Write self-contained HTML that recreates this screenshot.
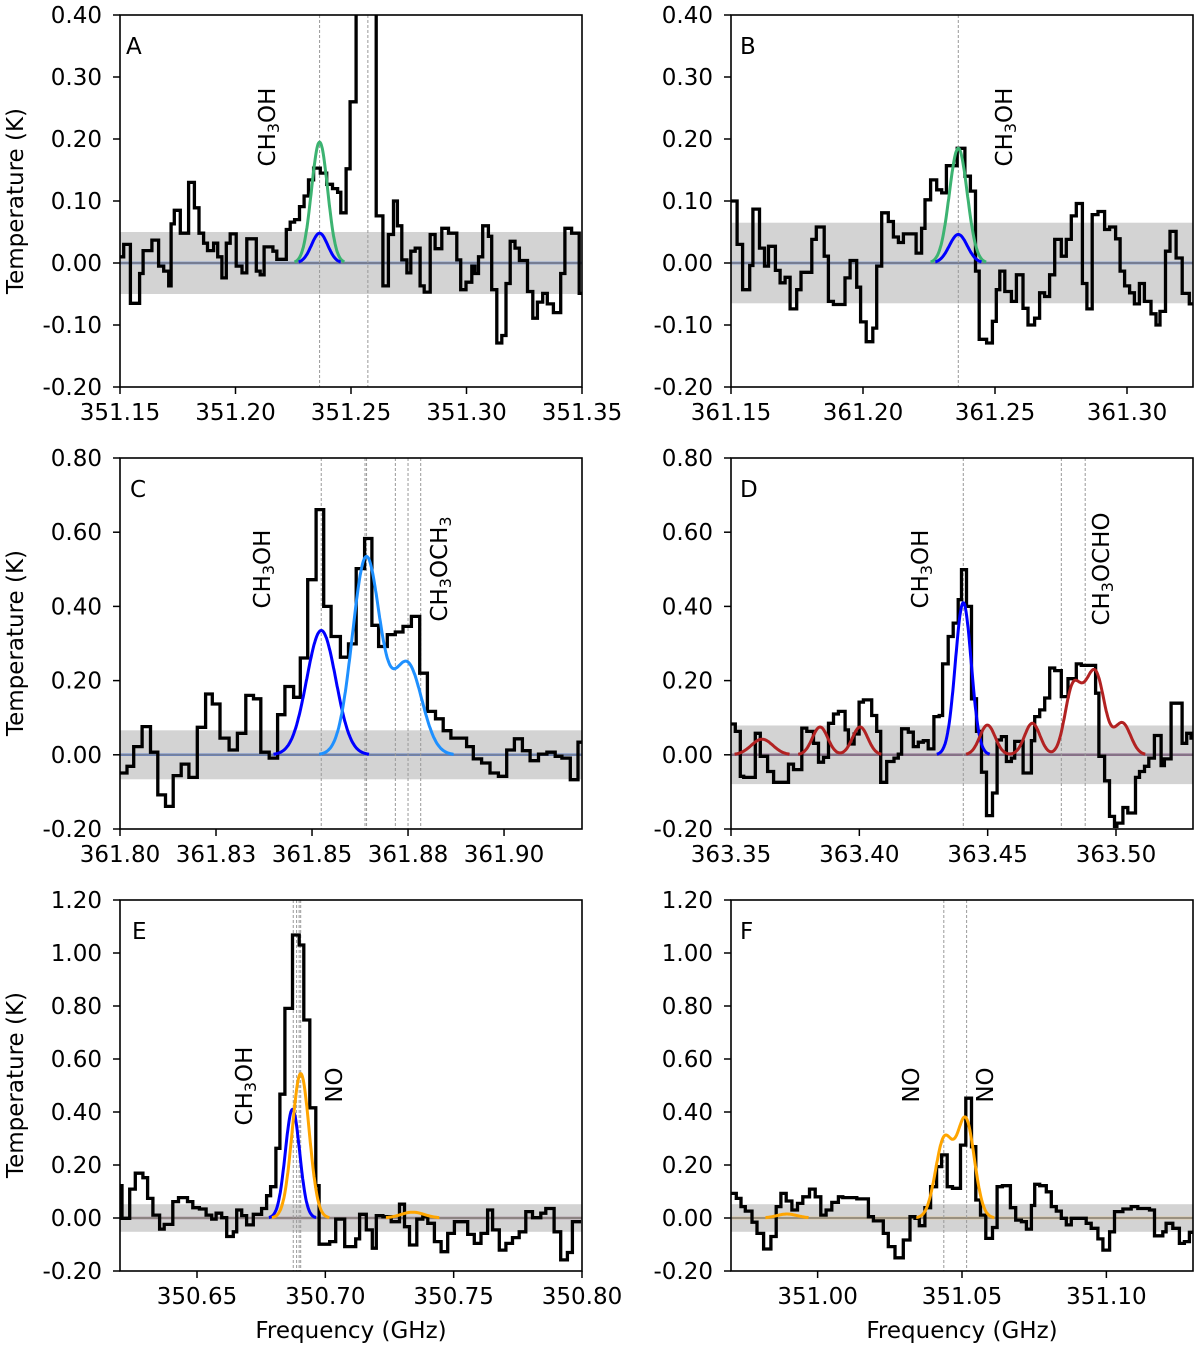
<!DOCTYPE html>
<html><head><meta charset="utf-8"><title>Spectra panels</title>
<style>
html,body{margin:0;padding:0;background:#fff;}
svg{display:block;font-family:"DejaVu Sans","Liberation Sans",sans-serif;}
</style></head>
<body>
<svg id="fig" width="1200" height="1350" viewBox="0 0 1200 1350" xmlns="http://www.w3.org/2000/svg">
<rect width="1200" height="1350" fill="#fff"/>
<text transform="translate(16,201) rotate(-90)" text-anchor="middle" dominant-baseline="central" font-size="23">Temperature (K)</text>
<text transform="translate(16,643) rotate(-90)" text-anchor="middle" dominant-baseline="central" font-size="23">Temperature (K)</text>
<text transform="translate(16,1085) rotate(-90)" text-anchor="middle" dominant-baseline="central" font-size="23">Temperature (K)</text>
<text x="351" y="1338" text-anchor="middle" font-size="23">Frequency (GHz)</text>
<text x="962" y="1338" text-anchor="middle" font-size="23">Frequency (GHz)</text>
</svg>
<script>
// ---------- Panel A (351.15 GHz start, offsets in MHz) ----------
const aStartGHz = 351.15;
const aEdgesMHz = [0,1.6,4.5,8.5,10.0,13.8,16.7,18.9,21.1,22.1,23.5,26.1,29.7,32.2,34.2,36.2,37.9,40.5,42.3,44.1,46.0,47.7,50.3,52.8,54.9,57.1,59.0,60.7,62.4,64.3,66.2,67.9,72.0,73.7,75.6,77.7,79.7,81.6,83.8,86.7,89.5,92.0,94.2,95.6,97.9,99.6,102.2,106.6,110.9,113.8,116.2,118.4,120.1,122.0,124.2,125.9,127.8,129.9,131.7,134.3,136.4,139.3,142.2,145.8,147.5,149.8,152.3,153.7,155.2,157.0,159.5,160.9,163.1,165.3,167.1,168.9,171.0,172.9,176.4,178.7,180.7,183.0,185.0,187.6,190.8,192.6,195.5,198.8,200];
const aTemps = [0.01,0.03,-0.065,-0.017,0.02,0.037,-0.005,-0.013,-0.037,0.063,0.085,0.048,0.13,0.089,0.048,0.032,0.02,0.032,0.01,-0.024,0.032,0.047,-0.005,-0.016,0.039,0.039,-0.013,-0.019,0.026,0.026,0.019,0.006,0.054,0.066,0.07,0.091,0.108,0.134,0.153,0.145,0.127,0.12,0.114,0.081,0.152,0.26,0.6,0.7,0.076,-0.037,0.046,0.1,0.06,0.005,-0.016,0.019,0.024,-0.037,-0.047,0.046,0.023,0.056,0.048,0.005,-0.043,-0.031,-0.005,-0.017,0.01,0.06,0.043,-0.043,-0.129,-0.117,-0.033,0.035,0.024,0.004,-0.046,-0.089,-0.063,-0.049,-0.066,-0.08,-0.017,0.056,0.048,-0.049];
const aXTicks = [351.15,351.20,351.25,351.30,351.35];
const aXTickLabels = ["351.15","351.20","351.25","351.30","351.35"];
const aYTicks = [-0.2,-0.1,0,0.1,0.2,0.3,0.4];
const aYTickLabels = ["-0.20","-0.10","0.00","0.10","0.20","0.30","0.40"];
const aLineGHz = [351.2364,351.2573];
const aGreenAmp = [0.195], aGreenCen = [351.2364], aGreenSig = [0.0035];
const aBlueAmp = [0.048], aBlueCen = [351.2364], aBlueSig = [0.0035];
const aNoise = 0.05;

// ---------- Panel B ----------
const bStartGHz = 361.15;
const bEdgesMHz = [0,2.3,4.4,7.1,8.3,10.8,12.7,14.2,16.8,18.6,20.5,22.4,24.9,26.5,28.7,30.6,32.3,35.3,36.9,38.8,43.2,45.1,47.6,49.1,51.2,53.7,55.2,57.1,59.6,61.5,63.4,65.3,70.1,72.2,73.5,75.6,77.9,79.8,81.6,83.2,85.7,88.6,90.7,92.6,94.0,96.8,99.0,100.5,101.8,103.7,106.2,108.1,110.6,112.5,115.0,116.9,118.8,120.7,122.6,125.1,127.0,128.9,130.8,133.1,134.8,136.8,139.0,141.5,143.4,145.7,147.4,149.1,151.0,152.8,154.7,156.6,159.1,161.0,162.5,164.6,166.3,168.6,170.9,173.6,175.1];
const bTemps = [0.1,0.03,-0.043,-0.004,0.087,0.024,-0.005,0.027,-0.012,-0.032,-0.023,-0.074,-0.043,-0.015,-0.015,0.038,0.058,0.011,-0.062,-0.067,-0.024,0.004,-0.039,-0.095,-0.127,-0.105,-0.005,0.081,0.067,0.042,0.033,0.047,0.016,0.056,0.102,0.134,0.118,0.113,0.157,0.157,0.185,0.14,0.116,-0.013,-0.123,-0.129,-0.094,-0.043,-0.013,-0.046,-0.062,-0.019,-0.073,-0.1,-0.089,-0.048,-0.054,-0.019,0.038,0.011,0.038,0.076,0.096,-0.033,-0.074,0.078,0.083,0.054,0.058,0.039,-0.013,-0.037,-0.048,-0.066,-0.033,-0.062,-0.082,-0.1,-0.078,0.019,0.051,0.008,-0.049,-0.066];
const bXTicks = [361.15,361.20,361.25,361.30];
const bXTickLabels = ["361.15","361.20","361.25","361.30"];
const bYTicks = [-0.2,-0.1,0,0.1,0.2,0.3,0.4];
const bYTickLabels = ["-0.20","-0.10","0.00","0.10","0.20","0.30","0.40"];
const bLineGHz = [361.2361];
const bGreenAmp = [0.185], bGreenCen = [361.2361], bGreenSig = [0.0034];
const bBlueAmp = [0.046], bBlueCen = [361.2361], bBlueSig = [0.0034];
const bNoise = 0.065;

// ---------- Panel C ----------
const cStartGHz = 361.80;
const cEdgesMHz = [0,1.83,3.57,5.75,7.93,9.84,11.85,13.85,15.94,17.94,20.12,22.3,24.04,26.05,28.4,30.57,32.75,34.76,36.67,38.85,41.03,42.94,45.21,46.95,48.87,51.05,53.05,54.97,57.4,59.5,61.5,63.68,65.59,67.33,69.6,71.69,73.69,75.87,78.05,80.05,82.14,84.15,86.15,88.07,90.24,91.99,94.16,96.34,98.52,100.7,102.7,104.79,106.79,108.97,111.15,113.33,115.07,117.25,119.25,120.82];
const cTemps = [-0.049,-0.031,0.022,0.076,0.007,-0.108,-0.139,-0.056,-0.025,-0.061,0.074,0.164,0.137,0.045,0.013,0.058,0.16,0.151,0.007,-0.009,0.108,0.184,0.155,0.261,0.472,0.661,0.4,0.319,0.263,0.299,0.502,0.583,0.349,0.292,0.324,0.331,0.346,0.373,0.22,0.117,0.097,0.065,0.045,0.045,0.022,-0.011,-0.022,-0.049,-0.058,0.013,0.043,0.011,-0.016,0.002,0.007,-0.004,-0.009,-0.067,0.034];
const cXTicks = [361.80,361.825,361.85,361.875,361.90];
const cXTickLabels = ["361.80","361.83","361.85","361.88","361.90"];
const cYTicks = [-0.2,0,0.2,0.4,0.6,0.8];
const cYTickLabels = ["-0.20","0.00","0.20","0.40","0.60","0.80"];
const cLineGHz = [361.8524,361.8638,361.8642,361.8717,361.8750,361.8783];
const cBlueAmp = [0.335], cBlueCen = [361.8524], cBlueSig = [0.0038];
const cSkyAmp = [0.53,0.245], cSkyCen = [361.8641,361.8748], cSkySig = [0.0036,0.0038];
const cNoise = 0.066;

// ---------- Panel D ----------
const dStartGHz = 363.35;
const dEdgesMHz = [0,1.68,3.63,4.93,9.46,11.4,14.26,16.59,20.48,22.42,24.36,27.6,29.55,32.14,34.08,36.03,37.97,39.92,41.86,44.45,45.75,47.95,49.9,51.58,54.82,56.76,58.32,60.65,63.5,65.19,66.48,69.08,71.02,72.96,74.91,76.85,79.06,81.13,82.43,84.63,86.57,88.52,89.81,91.76,93.7,95.64,97.59,99.53,101.87,103.68,105.36,107.31,109.25,110.55,113.79,117.03,118.32,120.27,122.21,124.16,126.1,128.69,131.28,134.52,136.47,139.06,142.04,143.34,145.54,147.48,149.43,150.34,152.67,154.61,157.59,159.15,161.09,162.78,164.98,167.57,168.87,171.46,175.74,177.55,179.24,180.14];
const dTemps = [0.083,0.063,-0.058,-0.061,0.058,-0.004,-0.045,-0.074,-0.074,-0.025,-0.04,0.072,0.063,0.031,-0.02,-0.007,0.085,0.11,0.117,0.067,0.029,0.056,0.142,0.148,0.106,0.063,-0.074,-0.018,-0.009,0.002,0.07,0.061,0.022,0.034,0.038,0.016,0.103,0.106,0.245,0.319,0.355,0.418,0.499,0.4,0.151,0.063,-0.047,-0.164,-0.103,0.04,0.049,-0.018,-0.009,0.036,-0.049,0.038,0.103,0.121,0.153,0.234,0.227,0.157,0.205,0.245,0.241,0.241,0.166,-0.004,-0.07,-0.166,-0.193,-0.184,-0.142,-0.157,-0.061,-0.045,-0.031,-0.009,0.052,-0.029,-0.011,0.139,0.031,0.058,0.045];
const dXTicks = [363.35,363.40,363.45,363.50];
const dXTickLabels = ["363.35","363.40","363.45","363.50"];
const dYTicks = [-0.2,0,0.2,0.4,0.6,0.8];
const dYTickLabels = ["-0.20","0.00","0.20","0.40","0.60","0.80"];
const dLineGHz = [363.4405,363.4787,363.4880];
const dBlueAmp = [0.41], dBlueCen = [363.4405], dBlueSig = [0.0031];
const dRedAmp = [0.042,0.075,0.075,0.08,0.085,0.17,0.08,0.195,0.085];
const dRedCen = [363.3621,363.3847,363.4003,363.4499,363.4674,363.4830,363.4880,363.4925,363.5025];
const dRedSig = [0.0042,0.0030,0.0030,0.0030,0.0030,0.0030,0.0030,0.0033,0.0032];
const dNoise = 0.079;

// ---------- Panel E ----------
const eStartGHz = 350.62;
const eEdgesMHz = [0,0.78,3.76,5.96,8.94,10.75,12.82,15.41,17.22,20.59,22.79,26.29,28.36,30.95,33.54,35.74,37.43,39.63,41.57,44.16,45.46,47.4,49.34,51.93,55.17,57.11,58.66,60.74,62.29,64.23,67.21,69.8,71.61,73.94,76.27,77.57,81.71,84.04,87.54,91.82,93.37,95.96,98.29,99.85,102.44,105.68,108.91,110.86,112.8,115.65,117.98,119.92,122.51,125.1,127.69,130.28,132.87,135.46,138.05,140.64,143.23,145.17,147.76,150.35,152.94,155.53,158.12,160.71,163.95,165.89,169.13,171.72,174.31,176.25,179.62];
const eTemps = [0.122,-0.001,0.109,0.169,0.152,0.074,0.011,-0.042,-0.024,0.062,0.077,0.062,0.039,0.034,0.011,-0.004,0.018,0.001,-0.07,-0.052,0.03,0.009,-0.026,0.014,0.036,0.084,0.118,0.263,0.467,0.791,1.068,1.03,0.747,0.416,0.122,-0.099,-0.089,-0.004,-0.108,-0.079,0.014,-0.045,-0.114,0.009,0.005,-0.014,0.052,-0.033,-0.102,-0.004,0.005,-0.02,-0.089,-0.127,-0.058,-0.014,-0.014,-0.062,-0.096,-0.058,0.03,-0.045,-0.121,-0.096,-0.074,-0.052,0.024,0.001,0.018,0.036,-0.052,-0.158,-0.13,-0.014];
const eXTicks = [350.65,350.70,350.75,350.80];
const eXTickLabels = ["350.65","350.70","350.75","350.80"];
const eYTicks = [-0.2,0,0.2,0.4,0.6,0.8,1.0,1.2];
const eYTickLabels = ["-0.20","0.00","0.20","0.40","0.60","0.80","1.00","1.20"];
const eLineGHz = [350.6875,350.6888,350.6898,350.6904];
const eBlueAmp = [0.41], eBlueCen = [350.6872], eBlueSig = [0.0028];
const eOrangeAmp = [0.545,0.022], eOrangeCen = [350.6904,350.7340], eOrangeSig = [0.0033,0.0045];
const eNoise = 0.052;

// ---------- Panel F ----------
const fStartGHz = 350.97;
const fEdgesMHz = [0,1.84,3.46,4.95,7.26,8.99,11.29,13.82,15.67,17.28,19.12,21.08,23.04,24.88,27.19,29.15,31.1,32.95,34.91,37.21,38.71,43.55,47.58,49.31,52.76,54.49,56.79,59.67,61.98,63.71,65.2,67.16,69.12,71.19,72.92,74.88,76.72,79.49,81.33,83.29,84.79,86.4,88.24,90.55,92.16,94.0,96.77,98.61,100.57,102.3,104.03,105.18,106.91,109.21,110.94,112.67,114.39,116.12,117.85,119.58,123.03,124.76,127.07,128.79,131.1,132.83,135.71,138.59,140.89,144.92,146.65,149.53,150.68,152.99,155.29,157.02,158.75,160.13];
const fTemps = [0.093,0.074,0.043,0.026,-0.016,-0.058,-0.117,-0.07,0.043,0.093,0.064,0.03,0.055,0.08,0.109,0.08,0.011,0.03,0.059,0.08,0.077,0.072,0.005,-0.011,-0.058,-0.108,-0.15,-0.083,0.005,-0.001,-0.029,0.039,0.118,0.194,0.238,0.118,0.112,0.275,0.452,0.269,0.068,0.011,-0.077,-0.036,0.118,0.122,0.039,-0.008,-0.014,-0.042,0.047,0.127,0.122,0.099,0.043,0.026,-0.001,-0.026,-0.001,-0.001,-0.02,-0.039,-0.079,-0.121,-0.052,0.024,0.034,0.043,0.036,0.03,-0.067,-0.052,-0.02,-0.039,-0.096,-0.089,-0.054];
const fXTicks = [351.00,351.05,351.10];
const fXTickLabels = ["351.00","351.05","351.10"];
const fYTicks = [-0.2,0,0.2,0.4,0.6,0.8,1.0,1.2];
const fYTickLabels = ["-0.20","0.00","0.20","0.40","0.60","0.80","1.00","1.20"];
const fLineGHz = [351.0437,351.0516];
const fOrangeAmp = [0.293,0.367,0.015], fOrangeCen = [351.0438,351.0513,350.9894], fOrangeSig = [0.0030,0.0030,0.0035];
const fNoise = 0.052;

const NS = "http://www.w3.org/2000/svg";
const svg = document.getElementById('fig');
function mk(tag, attrs, parent){const e=document.createElementNS(NS,tag);for(const k in attrs)e.setAttribute(k,attrs[k]);(parent||svg).appendChild(e);return e;}

function panel(p){
  const g = mk('g',{});
  
  
  const X = f => p.L + (f - p.xmin)/(p.xmax - p.xmin)*(p.R - p.L);
  const Y = v => p.B - (v - p.ymin)/(p.ymax - p.ymin)*(p.B - p.T);
  const cid = 'clip' + p.id;
  const cp = mk('clipPath',{id:cid},g);
  mk('rect',{x:p.L,y:p.T,width:p.R-p.L,height:p.B-p.T},cp);
  const inner = mk('g',{'clip-path':'url(#'+cid+')'},g);
  const band = mk('rect',{x:p.L,y:Y(p.noise),width:p.R-p.L,height:Y(-p.noise)-Y(p.noise),fill:'#d3d3d3'},inner);
  
  
  p.fits.forEach(ft=>{
    const base = mk('line',{x1:p.L,x2:p.R,y1:Y(0),y2:Y(0),stroke:ft.color,'stroke-width':2.5,opacity:0.4},inner);
    
    
  });
  const zl = mk('line',{x1:p.L,x2:p.R,y1:Y(0),y2:Y(0),stroke:'#808080','stroke-width':2,opacity:0.75},inner);
  
  
  p.lines.forEach(f=>{
    const l = mk('line',{x1:X(f),x2:X(f),y1:p.T,y2:p.B,stroke:'#999','stroke-width':1,'stroke-dasharray':'3,2'},inner);
    
    
  });
  const n = Math.min(p.temps.length, p.edges.length-1);
  let d = '';
  for(let i=0;i<n;i++){
    const x0 = X(p.start + p.edges[i]/1000), x1 = X(p.start + p.edges[i+1]/1000), y = Y(p.temps[i]);
    d += (i===0 ? 'M'+x0.toFixed(1)+','+y.toFixed(1) : 'V'+y.toFixed(1)) + 'H'+x1.toFixed(1);
  }
  const sp = mk('path',{d:d,fill:'none',stroke:'#000','stroke-width':3.3,'stroke-linejoin':'miter'},inner);
  
  
  p.fits.forEach(ft=>{
    let pd = '', on = false;
    const N = 900;
    for(let k=0;k<=N;k++){
      const f = p.xmin + (p.xmax-p.xmin)*k/N;
      let v = 0;
      for(let j=0;j<ft.amp.length;j++){const z=(f-ft.cen[j])/ft.sig[j];v+=ft.amp[j]*Math.exp(-0.5*z*z);}
      if(v > 0.0015){pd += (on?'L':'M') + X(f).toFixed(1)+','+Y(v).toFixed(1); on = true;}
      else on = false;
    }
    const c = mk('path',{d:pd,fill:'none',stroke:ft.color,'stroke-width':3,'stroke-linejoin':'round'},inner);
    
    
  });
  const fr = mk('rect',{x:p.L,y:p.T,width:p.R-p.L,height:p.B-p.T,fill:'none',stroke:'#000','stroke-width':1.6},g);
  
  
  p.xt.forEach((t,i)=>{
    const x = X(t);
    mk('line',{x1:x,x2:x,y1:p.B,y2:p.B+7,stroke:'#000','stroke-width':1.5},g);
    const tx = mk('text',{x:x,y:p.B+33,'text-anchor':'middle','font-size':23},g);
    tx.textContent = p.xtl[i];
    
    
  });
  p.yt.forEach((t,i)=>{
    const y = Y(t);
    mk('line',{x1:p.L-7,x2:p.L,y1:y,y2:y,stroke:'#000','stroke-width':1.5},g);
    const tx = mk('text',{x:p.L-18,y:y+8,'text-anchor':'end','font-size':23},g);
    tx.textContent = p.ytl[i];
    
    
  });
  const lt = mk('text',{x:p.lx,y:p.ly,'font-size':23},g);
  lt.textContent = p.id;
  
  
  p.labels.forEach(lb=>{
    const t = mk('text',{transform:'translate('+lb[1]+','+lb[2]+') rotate(-90)','text-anchor':'middle','dominant-baseline':'central','font-size':23},g);
    
    
    lb[0].split(/(3)/).forEach(part=>{
      if(!part) return;
      const ts = mk('tspan',{},t);
      if(part==='3'){ts.setAttribute('font-size','16');ts.setAttribute('dy','5');}
      else if(t.childNodes.length>1 && t.childNodes[t.childNodes.length-2].textContent==='3'){ts.setAttribute('dy','-5');}
      ts.textContent = part;
    });
  });
}

const GREEN='#3cb371', BLUE='#0000ff', SKY='#1e90ff', RED='#b22222', ORANGE='#ffa500';
panel({id:'A',L:120,R:582,T:15,B:387,xmin:351.15,xmax:351.35,ymin:-0.2,ymax:0.4,start:aStartGHz,edges:aEdgesMHz,temps:aTemps,
  xt:aXTicks,xtl:aXTickLabels,yt:aYTicks,ytl:aYTickLabels,lines:aLineGHz,noise:aNoise,lx:126,ly:54,
  fits:[{name:'fit-green',color:GREEN,amp:aGreenAmp,cen:aGreenCen,sig:aGreenSig},{name:'fit-blue',color:BLUE,amp:aBlueAmp,cen:aBlueCen,sig:aBlueSig}],
  labels:[['CH3OH',268,127]]});
panel({id:'B',L:731,R:1193,T:15,B:387,xmin:361.15,xmax:361.325,ymin:-0.2,ymax:0.4,start:bStartGHz,edges:bEdgesMHz,temps:bTemps,
  xt:bXTicks,xtl:bXTickLabels,yt:bYTicks,ytl:bYTickLabels,lines:bLineGHz,noise:bNoise,lx:740,ly:54,
  fits:[{name:'fit-green',color:GREEN,amp:bGreenAmp,cen:bGreenCen,sig:bGreenSig},{name:'fit-blue',color:BLUE,amp:bBlueAmp,cen:bBlueCen,sig:bBlueSig}],
  labels:[['CH3OH',1005,127]]});
panel({id:'C',L:120,R:582,T:458,B:829,xmin:361.80,xmax:361.9203,ymin:-0.2,ymax:0.8,start:cStartGHz,edges:cEdgesMHz,temps:cTemps,
  xt:cXTicks,xtl:cXTickLabels,yt:cYTicks,ytl:cYTickLabels,lines:cLineGHz,noise:cNoise,lx:130,ly:497,
  fits:[{name:'fit-blue',color:BLUE,amp:cBlueAmp,cen:cBlueCen,sig:cBlueSig},{name:'fit-lightblue',color:SKY,amp:cSkyAmp,cen:cSkyCen,sig:cSkySig}],
  labels:[['CH3OH',263,569],['CH3OCH3',440,569]]});
panel({id:'D',L:731,R:1193,T:458,B:829,xmin:363.35,xmax:363.530,ymin:-0.2,ymax:0.8,start:dStartGHz,edges:dEdgesMHz,temps:dTemps,
  xt:dXTicks,xtl:dXTickLabels,yt:dYTicks,ytl:dYTickLabels,lines:dLineGHz,noise:dNoise,lx:740,ly:497,
  fits:[{name:'fit-blue',color:BLUE,amp:dBlueAmp,cen:dBlueCen,sig:dBlueSig},{name:'fit-red',color:RED,amp:dRedAmp,cen:dRedCen,sig:dRedSig}],
  labels:[['CH3OH',921,569],['CH3OCHO',1102,569]]});
panel({id:'E',L:120,R:582,T:900,B:1271,xmin:350.62,xmax:350.80,ymin:-0.2,ymax:1.2,start:eStartGHz,edges:eEdgesMHz,temps:eTemps,
  xt:eXTicks,xtl:eXTickLabels,yt:eYTicks,ytl:eYTickLabels,lines:eLineGHz,noise:eNoise,lx:132,ly:939,
  fits:[{name:'fit-blue',color:BLUE,amp:eBlueAmp,cen:eBlueCen,sig:eBlueSig},{name:'fit-orange',color:ORANGE,amp:eOrangeAmp,cen:eOrangeCen,sig:eOrangeSig}],
  labels:[['CH3OH',245,1086],['NO',335,1085]]});
panel({id:'F',L:731,R:1193,T:900,B:1271,xmin:350.97,xmax:351.13,ymin:-0.2,ymax:1.2,start:fStartGHz,edges:fEdgesMHz,temps:fTemps,
  xt:fXTicks,xtl:fXTickLabels,yt:fYTicks,ytl:fYTickLabels,lines:fLineGHz,noise:fNoise,lx:740,ly:939,
  fits:[{name:'fit-orange',color:ORANGE,amp:fOrangeAmp,cen:fOrangeCen,sig:fOrangeSig}],
  labels:[['NO',912,1085],['NO',986,1085]]});
</script>
</body></html>
